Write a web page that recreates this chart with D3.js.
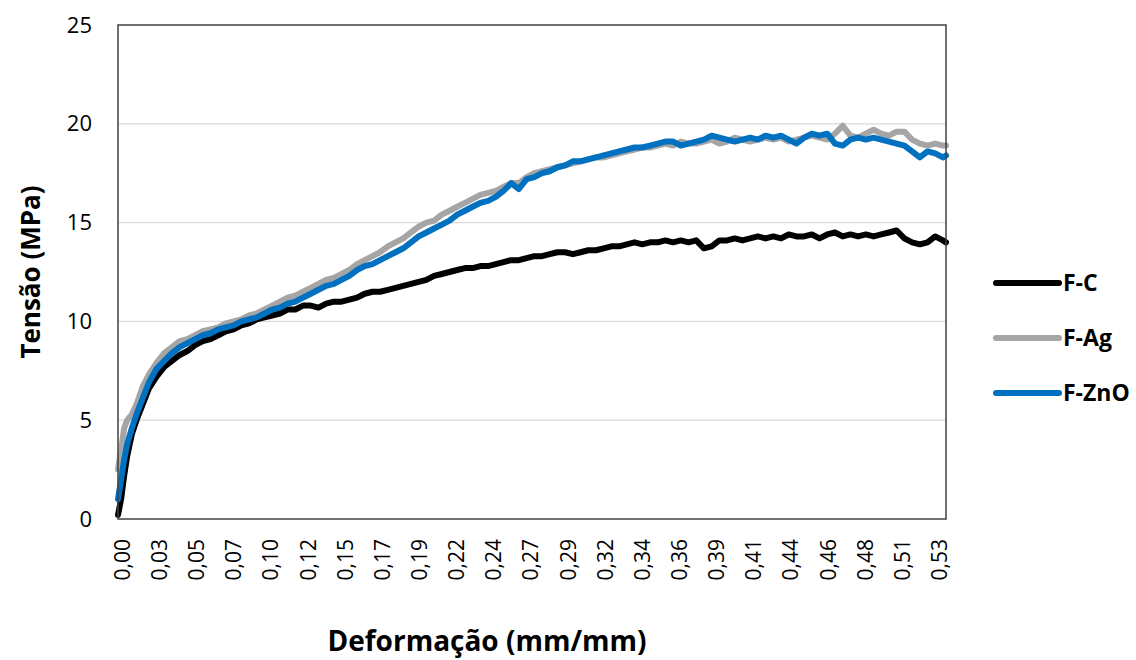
<!DOCTYPE html>
<html>
<head>
<meta charset="utf-8">
<script src="https://cdn.jsdelivr.net/npm/d3@7"></script>
<style>
  body { margin: 0; background: #fff; }
  text { font-family: "Open Sans", "Noto Sans", sans-serif; fill: #000; }
</style>
</head>
<body>
<div class="graphic"></div>
<script>
// strain (mm/mm) sample points
var strain = [0, 0.002, 0.004, 0.006, 0.009, 0.012, 0.016, 0.020, 0.025,
  0.030, 0.035, 0.040, 0.045, 0.050, 0.055, 0.060, 0.065, 0.070, 0.075,
  0.080, 0.085, 0.090, 0.095, 0.100, 0.105, 0.110, 0.115, 0.120, 0.125,
  0.130, 0.135, 0.140, 0.145, 0.150, 0.155, 0.160, 0.165, 0.170, 0.175,
  0.180, 0.185, 0.190, 0.195, 0.200, 0.205, 0.210, 0.215, 0.220, 0.225,
  0.230, 0.235, 0.240, 0.245, 0.250, 0.255, 0.260, 0.265, 0.270, 0.275,
  0.280, 0.285, 0.290, 0.295, 0.300, 0.305, 0.310, 0.315, 0.320, 0.325,
  0.330, 0.335, 0.340, 0.345, 0.350, 0.355, 0.360, 0.365, 0.370, 0.375,
  0.380, 0.385, 0.390, 0.395, 0.400, 0.405, 0.410, 0.415, 0.420, 0.425,
  0.430, 0.435, 0.440, 0.445, 0.450, 0.455, 0.460, 0.465, 0.470, 0.475,
  0.480, 0.485, 0.490, 0.495, 0.500, 0.505, 0.510, 0.515, 0.520, 0.525,
  0.530, 0.535, 0.537];

var fC = [0.2, 1.0, 2.2, 3.2, 4.3, 5.0, 5.8, 6.6, 7.2,
  7.7, 8.0, 8.3, 8.5, 8.8, 9.0, 9.1, 9.3, 9.5, 9.6,
  9.8, 9.9, 10.1, 10.2, 10.3, 10.4, 10.6, 10.6, 10.8, 10.8,
  10.7, 10.9, 11.0, 11.0, 11.1, 11.2, 11.4, 11.5, 11.5, 11.6,
  11.7, 11.8, 11.9, 12.0, 12.1, 12.3, 12.4, 12.5, 12.6, 12.7,
  12.7, 12.8, 12.8, 12.9, 13.0, 13.1, 13.1, 13.2, 13.3, 13.3,
  13.4, 13.5, 13.5, 13.4, 13.5, 13.6, 13.6, 13.7, 13.8, 13.8,
  13.9, 14.0, 13.9, 14.0, 14.0, 14.1, 14.0, 14.1, 14.0, 14.1,
  13.7, 13.8, 14.1, 14.1, 14.2, 14.1, 14.2, 14.3, 14.2, 14.3,
  14.2, 14.4, 14.3, 14.3, 14.4, 14.2, 14.4, 14.5, 14.3, 14.4,
  14.3, 14.4, 14.3, 14.4, 14.5, 14.6, 14.2, 14.0, 13.9, 14.0,
  14.3, 14.1, 14.0];

var fAg = [2.5, 3.5, 4.6, 5.0, 5.3, 5.8, 6.7, 7.3, 7.9,
  8.4, 8.7, 9.0, 9.1, 9.3, 9.5, 9.6, 9.7, 9.9, 10.0,
  10.1, 10.3, 10.4, 10.6, 10.8, 11.0, 11.2, 11.3, 11.5, 11.7,
  11.9, 12.1, 12.2, 12.4, 12.6, 12.9, 13.1, 13.3, 13.5, 13.8,
  14.0, 14.2, 14.5, 14.8, 15.0, 15.1, 15.4, 15.6, 15.8, 16.0,
  16.2, 16.4, 16.5, 16.6, 16.8, 17.0, 17.0, 17.3, 17.5, 17.6,
  17.7, 17.8, 17.9, 18.0, 18.1, 18.2, 18.3, 18.3, 18.4, 18.5,
  18.6, 18.7, 18.8, 18.8, 18.9, 19.0, 18.9, 19.1, 19.0, 19.0,
  19.1, 19.2, 19.0, 19.1, 19.3, 19.2, 19.1, 19.2, 19.3, 19.2,
  19.3, 19.1, 19.2, 19.3, 19.4, 19.3, 19.2, 19.5, 19.9, 19.4,
  19.3, 19.5, 19.7, 19.5, 19.4, 19.6, 19.6, 19.2, 19.0, 18.9,
  19.0, 18.9, 18.9];

var fZnO = [1.0, 2.0, 3.0, 3.8, 4.6, 5.3, 6.1, 6.9, 7.6,
  8.0, 8.4, 8.7, 8.9, 9.1, 9.3, 9.4, 9.6, 9.7, 9.8,
  10.0, 10.1, 10.2, 10.4, 10.6, 10.7, 10.9, 11.0, 11.2, 11.4,
  11.6, 11.8, 11.9, 12.1, 12.3, 12.6, 12.8, 12.9, 13.1, 13.3,
  13.5, 13.7, 14.0, 14.3, 14.5, 14.7, 14.9, 15.1, 15.4, 15.6,
  15.8, 16.0, 16.1, 16.3, 16.6, 17.0, 16.7, 17.2, 17.3, 17.5,
  17.6, 17.8, 17.9, 18.1, 18.1, 18.2, 18.3, 18.4, 18.5, 18.6,
  18.7, 18.8, 18.8, 18.9, 19.0, 19.1, 19.1, 18.9, 19.0, 19.1,
  19.2, 19.4, 19.3, 19.2, 19.1, 19.2, 19.3, 19.2, 19.4, 19.3,
  19.4, 19.2, 19.0, 19.3, 19.5, 19.4, 19.5, 19.0, 18.9, 19.2,
  19.3, 19.2, 19.3, 19.2, 19.1, 19.0, 18.9, 18.6, 18.3, 18.6,
  18.5, 18.3, 18.4];

var seriesNames = ["F-C", "F-Ag", "F-ZnO"];
var seriesColors = ["#000000", "#a5a5a5", "#0070c0"];
var xTickLabels = ["0,00", "0,03", "0,05", "0,07", "0,10", "0,12", "0,15", "0,17",
  "0,19", "0,22", "0,24", "0,27", "0,29", "0,32", "0,34", "0,36", "0,39", "0,41",
  "0,44", "0,46", "0,48", "0,51", "0,53"];
var yTicks = [0, 5, 10, 15, 20, 25];

var width = 1136, height = 660;
var plot = {left: 118, top: 25, right: 946, bottom: 519};

var svg = d3.select(".graphic")
  .append("svg")
  .attr("width", width)
  .attr("height", height);

var x = d3.scaleLinear().domain([0, 0.537]).range([plot.left, plot.right]);
var y = d3.scaleLinear().domain([0, 25]).range([plot.bottom, plot.top]);

// category labels sit every ~0.0241 of strain, first one a bit right of the edge
var tickPos = xTickLabels.map((d, i) => 0.0026 + i * 0.02409);

// gridlines
svg.append("g")
  .selectAll("line")
  .data(yTicks.filter(d => d > 0 && d < 25))
  .join("line")
  .attr("x1", plot.left).attr("x2", plot.right)
  .attr("y1", d => y(d)).attr("y2", d => y(d))
  .attr("stroke", "#d9d9d9")
  .attr("stroke-width", 1.3);

// y axis labels
var yAxis = svg.append("g")
  .attr("transform", `translate(${plot.left},0)`)
  .call(d3.axisLeft(y).tickValues(yTicks).tickSize(0).tickPadding(26));
yAxis.select(".domain").remove();
yAxis.selectAll("text")
  .attr("font-size", 22)
  .attr("fill", "#000")
  .style("font-family", "'Open Sans', sans-serif");

// x axis labels, rotated
var xAxis = svg.append("g")
  .attr("transform", `translate(0,${plot.bottom})`)
  .call(d3.axisBottom(x).tickValues(tickPos).tickFormat((d, i) => xTickLabels[i]).tickSize(0));
xAxis.select(".domain").remove();
xAxis.selectAll("text")
  .attr("font-size", 21)
  .attr("fill", "#000")
  .style("font-family", "'Open Sans', sans-serif")
  .attr("text-anchor", "end")
  .attr("dy", "0.35em")
  .attr("transform", "translate(0,20) rotate(-90)")
  .attr("x", 0)
  .attr("y", 0);

// series lines
var line = d3.line()
  .x((d, i) => x(strain[i]))
  .y(d => y(d));

[fC, fAg, fZnO].forEach((vals, k) => {
  svg.append("path")
    .datum(vals)
    .attr("d", line)
    .attr("fill", "none")
    .attr("stroke", seriesColors[k])
    .attr("stroke-width", 6)
    .attr("stroke-linejoin", "round")
    .attr("stroke-linecap", "round");
});

// plot border
svg.append("rect")
  .attr("x", plot.left).attr("y", plot.top)
  .attr("width", plot.right - plot.left)
  .attr("height", plot.bottom - plot.top)
  .attr("fill", "none")
  .attr("stroke", "#404040")
  .attr("stroke-width", 1.5);

// axis titles
svg.append("text")
  .attr("x", 487).attr("y", 651)
  .attr("text-anchor", "middle")
  .attr("font-size", 28)
  .attr("font-weight", "bold")
  .text("Deformação (mm/mm)");

svg.append("text")
  .attr("transform", "translate(40,272) rotate(-90)")
  .attr("text-anchor", "middle")
  .attr("font-size", 26)
  .attr("font-weight", "bold")
  .text("Tensão (MPa)");

// legend
var legend = svg.append("g")
  .selectAll("g")
  .data(seriesNames)
  .join("g")
  .attr("transform", (d, i) => `translate(0,${283 + i * 55})`);

legend.append("line")
  .attr("x1", 996).attr("x2", 1059)
  .attr("stroke", (d, i) => seriesColors[i])
  .attr("stroke-width", 6)
  .attr("stroke-linecap", "round");

legend.append("text")
  .attr("x", 1063)
  .attr("dy", "0.36em")
  .attr("font-size", 23)
  .attr("font-weight", "bold")
  .text(d => d);
</script>
</body>
</html>
